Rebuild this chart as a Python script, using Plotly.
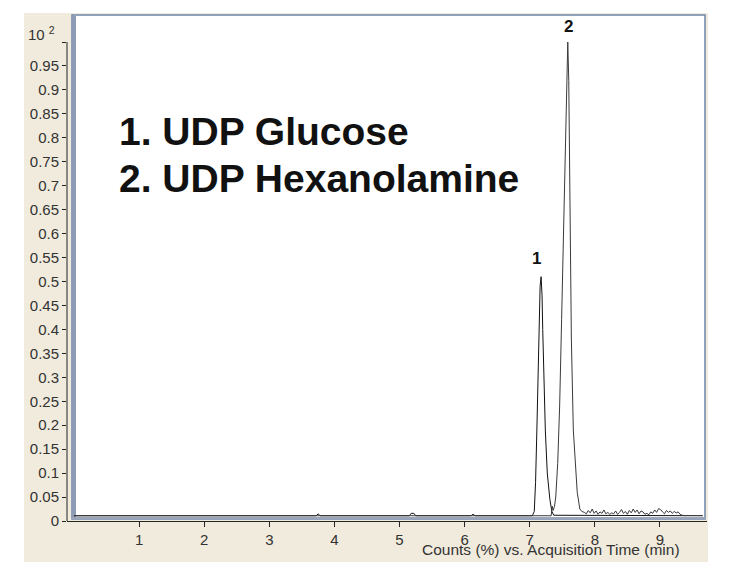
import plotly.graph_objects as go

# ---------------- data ----------------
glucose_time = [0.0, 3.72, 3.75, 3.78, 5.15, 5.18, 5.22, 5.25, 6.10, 6.13, 6.16,
                7.04, 7.07, 7.09, 7.11, 7.13, 7.145, 7.16, 7.175, 7.19, 7.20, 7.22,
                7.24, 7.27, 7.31, 7.34, 7.37, 9.66]
glucose_counts = [0.011, 0.011, 0.015, 0.011, 0.011, 0.016, 0.016, 0.011, 0.011, 0.014, 0.011,
                  0.011, 0.02, 0.08, 0.19, 0.33, 0.42, 0.49, 0.51, 0.47, 0.40, 0.28,
                  0.19, 0.10, 0.045, 0.02, 0.012, 0.011]

hexanol_time = [0.0, 7.33, 7.345, 7.36, 7.38, 7.40, 7.43, 7.46, 7.49, 7.52, 7.55, 7.57,
                7.585, 7.60, 7.62, 7.64, 7.67, 7.70, 7.73, 7.77, 7.80,
                7.84, 7.87, 7.90, 7.93, 7.96, 7.99, 8.02, 8.05, 8.08, 8.11, 8.14, 8.17,
                8.20, 8.23, 8.26, 8.29, 8.32, 8.35, 8.38, 8.41, 8.44, 8.47, 8.50, 8.53,
                8.56, 8.59, 8.62, 8.65, 8.68, 8.71, 8.74, 8.77, 8.80, 8.83, 8.86, 8.89,
                8.92, 8.95, 8.98, 9.01, 9.04, 9.07, 9.10, 9.13, 9.16, 9.19, 9.22, 9.25,
                9.28, 9.31, 9.34, 9.40]
hexanol_counts = [0.011, 0.011, 0.031, 0.022, 0.03, 0.05, 0.12, 0.24, 0.42, 0.61, 0.85, 0.97,
                  1.0, 0.92, 0.61, 0.38, 0.19, 0.12, 0.06, 0.025, 0.02,
                  0.018, 0.015, 0.022, 0.017, 0.025, 0.016, 0.021, 0.014, 0.019, 0.016, 0.023, 0.015,
                  0.018, 0.014, 0.017, 0.015, 0.021, 0.014, 0.018, 0.024, 0.016, 0.02, 0.014, 0.022,
                  0.017, 0.025, 0.018, 0.023, 0.015, 0.021, 0.019, 0.014, 0.016, 0.013, 0.019, 0.016,
                  0.023, 0.018, 0.026, 0.024, 0.019, 0.015, 0.022, 0.018, 0.021, 0.016, 0.02, 0.017,
                  0.019, 0.014, 0.012, 0.011]

x_ticks = [1, 2, 3, 4, 5, 6, 7, 8, 9]
y_ticks = [0, 0.05, 0.1, 0.15, 0.2, 0.25, 0.3, 0.35, 0.4, 0.45, 0.5,
           0.55, 0.6, 0.65, 0.7, 0.75, 0.8, 0.85, 0.9, 0.95, 1.0]
y_tick_text = ["0", "0.05", "0.1", "0.15", "0.2", "0.25", "0.3", "0.35", "0.4", "0.45", "0.5",
               "0.55", "0.6", "0.65", "0.7", "0.75", "0.8", "0.85", "0.9", "0.95", ""]

peak_labels = ["1", "2"]
peak_label_x = [7.10, 7.59]
peak_label_y = [0.525, 1.008]
legend_lines = ["1. UDP Glucose", "2. UDP Hexanolamine"]

# ---------------- layout geometry (pixels of the page) ----------------
OFF = 8                     # page body margin
W, H = 733 - OFF, 581 - OFF
L, R, T, B = 67 - OFF, 733 - 707, 15 - OFF, 581 - 521
PW = W - L - R
PH = H - T - B


def px(xp):
    return (xp - OFF - L) / PW


def py(yp):
    return (H - B - (yp - OFF)) / PH


FONT = "Liberation Sans, Arial, sans-serif"

fig = go.Figure()
fig.add_trace(go.Scatter(x=glucose_time, y=glucose_counts, mode="lines",
                         line=dict(color="#111111", width=1), hoverinfo="skip",
                         showlegend=False))
fig.add_trace(go.Scatter(x=hexanol_time, y=hexanol_counts, mode="lines",
                         line=dict(color="#3a3a3a", width=1), hoverinfo="skip",
                         showlegend=False))

shapes = [
    dict(type="rect", xref="paper", yref="paper", x0=px(24), x1=px(708), y0=py(562), y1=py(13),
         fillcolor="#f1ebdd", line=dict(width=0), layer="below"),
    dict(type="rect", xref="paper", yref="paper", x0=px(72), x1=px(705), y0=py(519), y1=py(15),
         fillcolor="white", line=dict(color="#6d86a8", width=1.5), layer="below"),
    dict(type="rect", xref="paper", yref="paper", x0=px(72), x1=px(76), y0=py(519), y1=py(16),
         fillcolor="#8e9bb4", line=dict(width=0), layer="below"),
    dict(type="rect", xref="paper", yref="paper", x0=px(72), x1=px(705), y0=py(519.5), y1=py(517),
         fillcolor="#9aa5bb", line=dict(width=0), layer="below"),
    dict(type="line", xref="paper", yref="y", x0=0, x1=0, y0=0, y1=1.0,
         line=dict(color="#222222", width=1)),
]

annotations = [
    dict(xref="paper", yref="paper", x=px(26), y=py(33), xanchor="left", yanchor="middle",
         text="10 <sup>2</sup>", showarrow=False, font=dict(family=FONT, size=15, color="#333333")),
    dict(xref="paper", yref="paper", x=px(682), y=py(549), xanchor="right", yanchor="middle",
         text="Counts (%) vs. Acquisition Time (min)", showarrow=False,
         font=dict(family=FONT, size=15.5, color="#333333")),
]
for lab, lx, ly in zip(peak_labels, peak_label_x, peak_label_y):
    annotations.append(dict(x=lx, y=ly, xref="x", yref="y", text="<b>" + lab + "</b>",
                            showarrow=False, xanchor="center", yanchor="bottom",
                            font=dict(family=FONT, size=17, color="#111111")))
for i, line in enumerate(legend_lines):
    annotations.append(dict(xref="paper", yref="paper", x=px(117), y=py(131 + 47.5 * i),
                            xanchor="left", yanchor="middle", text="<b>" + line + "</b>",
                            showarrow=False, font=dict(family=FONT, size=39, color="#111111")))

fig.update_layout(
    width=W, height=H, autosize=False,
    margin=dict(l=L, r=R, t=T, b=B, pad=0),
    paper_bgcolor="white", plot_bgcolor="rgba(0,0,0,0)",
    shapes=shapes, annotations=annotations,
    xaxis=dict(range=[(67 - 74) / 65.1, (707 - 74) / 65.1], tickvals=x_ticks,
               showline=True, linecolor="#222222", linewidth=1, ticks="outside", ticklen=5,
               tickcolor="#222222", showgrid=False, zeroline=False,
               tickfont=dict(family=FONT, size=15, color="#333333")),
    yaxis=dict(range=[0, PH / 479.0], tickvals=y_ticks, ticktext=y_tick_text,
               showline=False, ticks="outside", ticklen=4, tickcolor="#222222",
               showgrid=False, zeroline=False,
               tickfont=dict(family=FONT, size=15, color="#333333")),
)

fig.write_html("out.html")
